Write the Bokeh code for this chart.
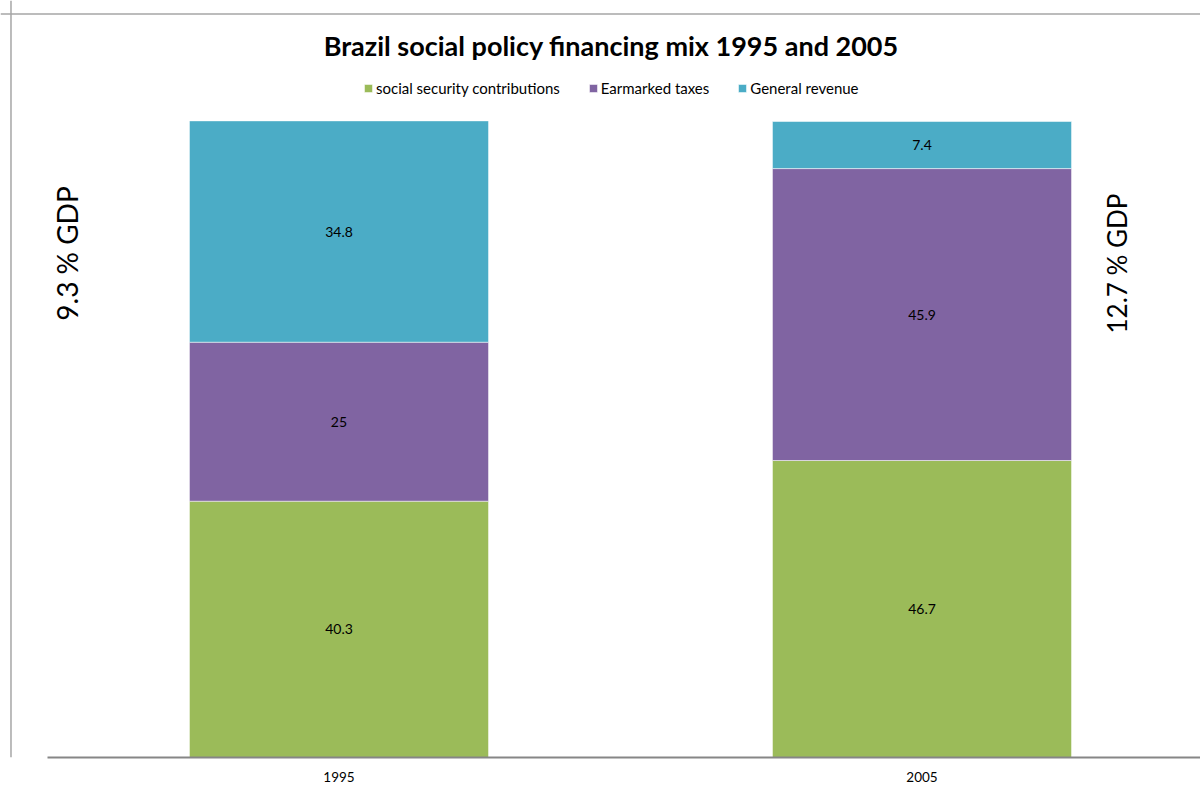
import math
from bokeh.plotting import figure
from bokeh.models import (ColumnDataSource, Range1d, LinearAxis, FixedTicker,
                          Span, Label)
from bokeh.core.properties import value
from bokeh.embed import file_html
from bokeh.resources import INLINE

# ---- data ----
categories = ["1995", "2005"]
series_names = ["social security contributions", "Earmarked taxes", "General revenue"]
social = [40.3, 46.7]
earmarked = [25, 45.9]
general = [34.8, 7.4]
gdp_share = [9.3, 12.7]
colors = ["#9BBB59", "#8064A2", "#4BACC6"]
title_text = "Brazil social policy financing mix 1995 and 2005"

FONT = "Lato"

xs = [i + 0.5 for i in range(len(categories))]
src = ColumnDataSource(dict(x=xs, social=social, earmarked=earmarked, general=general))

p = figure(width=1200, height=789, output_backend="svg", toolbar_location=None,
           x_axis_type=None, y_axis_type=None,
           x_range=Range1d(-0.0806, 1.9777), y_range=Range1d(0, 119.03),
           min_border_left=0, min_border_right=0, min_border_top=0,
           min_border_bottom=32)
p.outline_line_color = None
p.xgrid.visible = False
p.ygrid.visible = False
p.background_fill_color = "white"
p.border_fill_color = "white"

renderers = p.vbar_stack(["social", "earmarked", "general"], x="x", width=0.513,
                         color=colors, source=src, legend_label=series_names,
                         line_color="white", line_alpha=0.5, line_width=1)

# value labels in segment centres
lx, ly, lt = [], [], []
for i, x in enumerate(xs):
    bottom = 0
    for ser in (social, earmarked, general):
        v = ser[i]
        lx.append(x)
        ly.append(bottom + v / 2)
        lt.append(f"{v:g}")
        bottom += v
p.text(x=lx, y=ly, text=lt, text_align="center", text_baseline="middle",
       text_font=value(FONT), text_font_size="14px", text_color="#000000")

# x axis
ax = LinearAxis(ticker=FixedTicker(ticks=xs),
                major_label_overrides={x: c for x, c in zip(xs, categories)})
ax.bounds = (0, 2)
ax.axis_line_color = "#868686"
ax.axis_line_width = 2
ax.major_tick_line_color = None
ax.minor_tick_line_color = None
ax.major_label_text_font = FONT
ax.major_label_text_font_size = "13.5px"
ax.major_label_text_color = "#000000"
ax.major_label_standoff = 8
p.add_layout(ax, "below")

# chart-area border (left and top)
p.add_layout(Span(location=-0.0626, dimension="height", line_color="#A6A6A6", line_width=1.5))
p.add_layout(Span(location=116.9, dimension="width", line_color="#A6A6A6", line_width=1.5))

# title
p.add_layout(Label(x=0.967, y=111.95, text=title_text, text_align="center",
                   text_baseline="middle", text_font=FONT, text_font_style="bold",
                   text_font_size="27px", text_color="#000000"))

# GDP labels
gdp_pos = [(0.0343, 79.25), (1.835, 77.67)]
gdp_sizes = ["28px", "26px"]
for g, (gx, gy), fs in zip(gdp_share, gdp_pos, gdp_sizes):
    p.add_layout(Label(x=gx, y=gy, text=f"{g:g} % GDP", angle=math.pi / 2,
                       text_align="center", text_baseline="middle", text_font=FONT,
                       text_font_size=fs, text_color="#000000"))

# legend
lg = p.legend[0]
lg.orientation = "horizontal"
lg.location = (363, 660)
lg.padding = 0
lg.margin = 0
lg.spacing = 28
lg.glyph_width = 10
lg.glyph_height = 10
lg.label_standoff = 3
lg.label_height = 18
lg.label_text_font = FONT
lg.label_text_font_size = "15px"
lg.label_text_color = "#000000"
lg.border_line_color = None
lg.background_fill_alpha = 0

open("out.html", "w").write(file_html(p, INLINE))
